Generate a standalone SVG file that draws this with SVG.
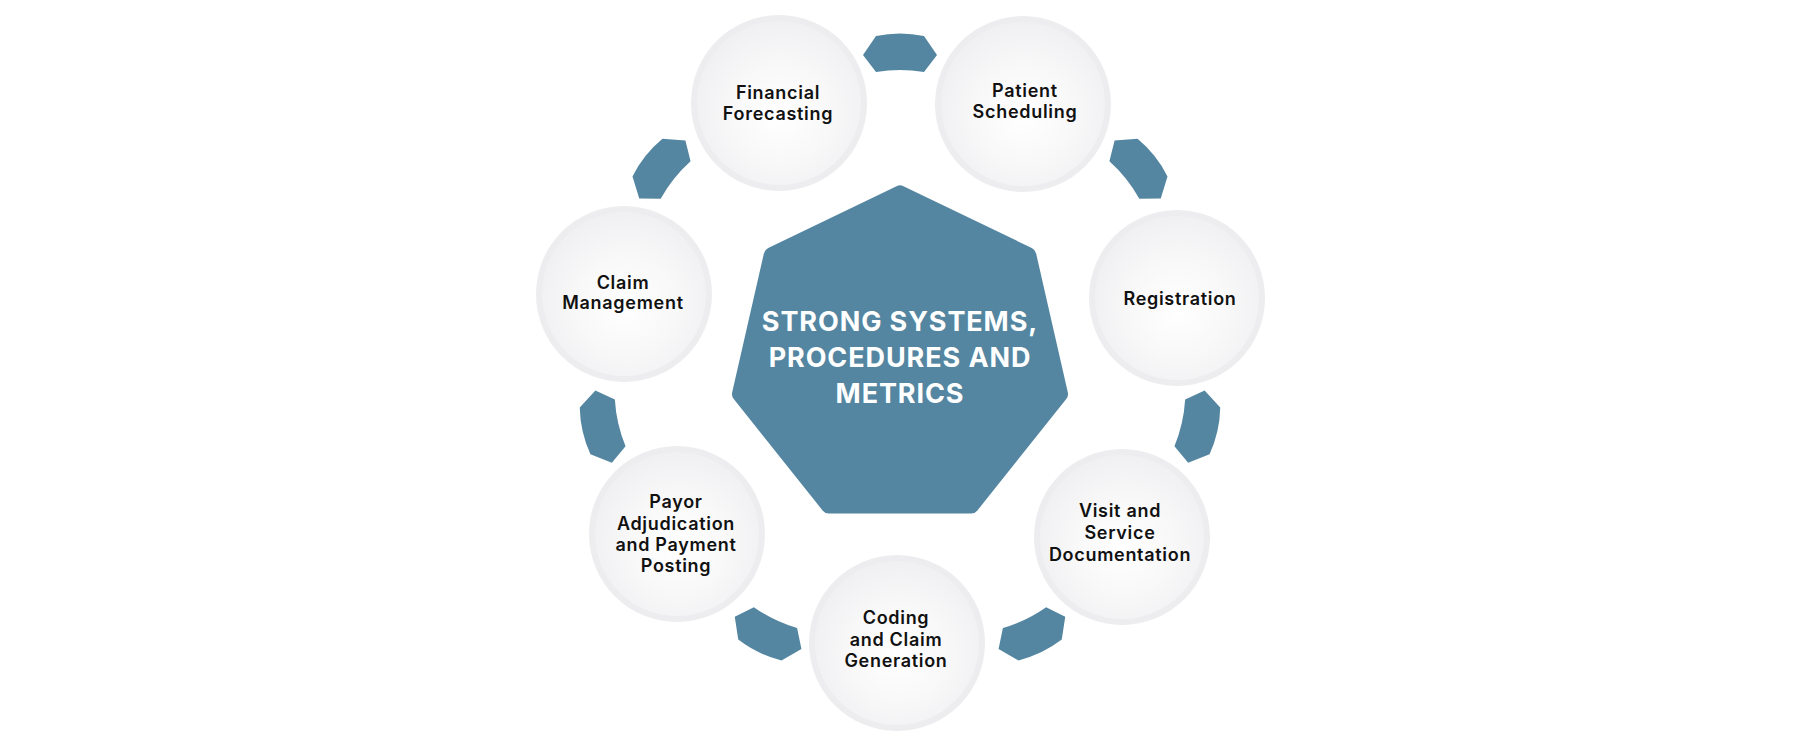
<svg xmlns="http://www.w3.org/2000/svg" xmlns:xlink="http://www.w3.org/1999/xlink" width="1800" height="748" viewBox="0 0 1800 748">
  <style>
    .ring { fill: #ededef; }
    .disc { fill: url(#discGrad); }
    .label { font-family: Inter, "Noto Sans", "Liberation Sans", sans-serif; font-weight: 600; font-size: 18px; letter-spacing: 0.7px; fill: #111111; text-anchor: middle; }
    .hub-text { font-family: Inter, "Noto Sans", "Liberation Sans", sans-serif; font-weight: 700; font-size: 27px; letter-spacing: 0.9px; fill: #ffffff; text-anchor: middle; }
    .conn { fill: #5486a1; }
  </style>
  <defs>
    <radialGradient id="discGrad" cx="0.52" cy="0.55" r="0.55" fx="0.5" fy="0.58">
      <stop offset="0" stop-color="#ffffff"/>
      <stop offset="0.55" stop-color="#f8f8f9"/>
      <stop offset="1" stop-color="#f0f0f2"/>
    </radialGradient>
    <path id="connShape" d="M 876,36 Q 900,31 924,36 L 937,55 L 924,72 Q 900,68 876,72 L 863,55 Z"/>
  </defs>
  <rect width="1800" height="748" fill="#ffffff"/>

  <g id="connectors" class="conn">
    <use xlink:href="#connShape" href="#connShape"/>
    <use xlink:href="#connShape" href="#connShape" transform="rotate(51.4286 900 359)"/>
    <use xlink:href="#connShape" href="#connShape" transform="rotate(102.8571 900 359)"/>
    <use xlink:href="#connShape" href="#connShape" transform="rotate(154.2857 900 359)"/>
    <use xlink:href="#connShape" href="#connShape" transform="rotate(205.7143 900 359)"/>
    <use xlink:href="#connShape" href="#connShape" transform="rotate(257.1429 900 359)"/>
    <use xlink:href="#connShape" href="#connShape" transform="rotate(308.5714 900 359)"/>
  </g>

  <g id="hub">
    <polygon points="900,193.4 1028.3,255.2 1060,394 971.2,505.4 828.8,505.4 740,394 771.7,255.2" fill="#5486a1" stroke="#5486a1" stroke-width="16" stroke-linejoin="round"/>
    <text class="hub-text" x="900" y="331">STRONG SYSTEMS,</text>
    <text class="hub-text" x="900" y="367">PROCEDURES AND</text>
    <text class="hub-text" x="900" y="403">METRICS</text>
  </g>

  <g id="financial-forecasting">
    <circle class="ring" cx="779" cy="103" r="88"/>
    <circle class="disc" cx="779" cy="103" r="82"/>
    <text class="label" x="778" y="99">Financial</text>
    <text class="label" x="778" y="120">Forecasting</text>
  </g>

  <g id="patient-scheduling">
    <circle class="ring" cx="1023" cy="104" r="88"/>
    <circle class="disc" cx="1023" cy="104" r="82"/>
    <text class="label" x="1025" y="97">Patient</text>
    <text class="label" x="1025" y="118">Scheduling</text>
  </g>

  <g id="registration">
    <circle class="ring" cx="1177" cy="298" r="88"/>
    <circle class="disc" cx="1177" cy="298" r="82"/>
    <text class="label" x="1180" y="305">Registration</text>
  </g>

  <g id="visit-and-service-documentation">
    <circle class="ring" cx="1122" cy="537" r="88"/>
    <circle class="disc" cx="1122" cy="537" r="82"/>
    <text class="label" x="1120" y="517">Visit and</text>
    <text class="label" x="1120" y="539">Service</text>
    <text class="label" x="1120" y="561">Documentation</text>
  </g>

  <g id="coding-and-claim-generation">
    <circle class="ring" cx="897" cy="643" r="88"/>
    <circle class="disc" cx="897" cy="643" r="82"/>
    <text class="label" x="896" y="624">Coding</text>
    <text class="label" x="896" y="646">and Claim</text>
    <text class="label" x="896" y="667">Generation</text>
  </g>

  <g id="payor-adjudication-and-payment-posting">
    <circle class="ring" cx="677" cy="534" r="88"/>
    <circle class="disc" cx="677" cy="534" r="82"/>
    <text class="label" x="676" y="508">Payor</text>
    <text class="label" x="676" y="530">Adjudication</text>
    <text class="label" x="676" y="551">and Payment</text>
    <text class="label" x="676" y="572">Posting</text>
  </g>

  <g id="claim-management">
    <circle class="ring" cx="624" cy="294" r="88"/>
    <circle class="disc" cx="624" cy="294" r="82"/>
    <text class="label" x="623" y="289">Claim</text>
    <text class="label" x="623" y="309">Management</text>
  </g>
</svg>
